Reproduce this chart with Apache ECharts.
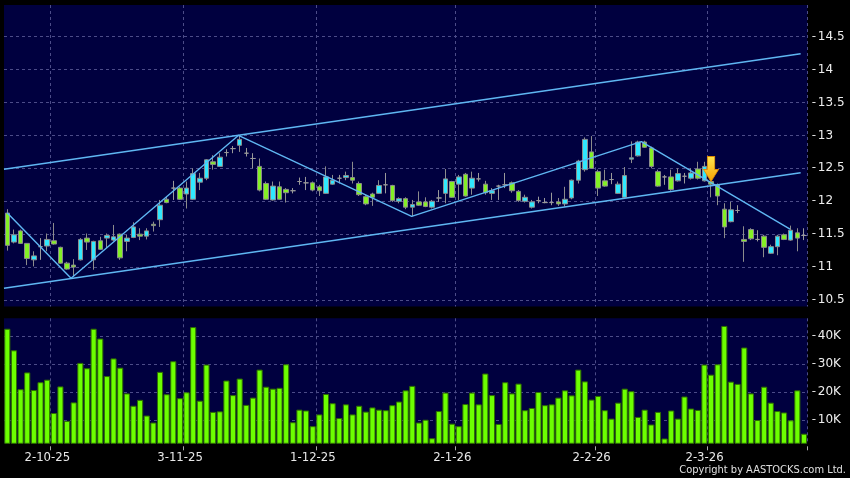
<!DOCTYPE html>
<html><head><meta charset="utf-8">
<script src="https://cdn.jsdelivr.net/npm/echarts@6/dist/echarts.min.js"></script>
<style>html,body{margin:0;padding:0;background:#000;}#c{width:850px;height:478px;}</style>
</head><body><div id="c"></div>
<script>
const dates = ['22-9-25','23-9-25','24-9-25','25-9-25','26-9-25','29-9-25','30-9-25',
'2-10-25','3-10-25','6-10-25','8-10-25','9-10-25','10-10-25','13-10-25','14-10-25','15-10-25','16-10-25','17-10-25','20-10-25','21-10-25','22-10-25','23-10-25','24-10-25','27-10-25','28-10-25','30-10-25','31-10-25',
'3-11-25','4-11-25','5-11-25','6-11-25','7-11-25','10-11-25','11-11-25','12-11-25','13-11-25','14-11-25','17-11-25','18-11-25','19-11-25','20-11-25','21-11-25','24-11-25','25-11-25','26-11-25','27-11-25','28-11-25',
'1-12-25','2-12-25','3-12-25','4-12-25','5-12-25','8-12-25','9-12-25','10-12-25','11-12-25','12-12-25','15-12-25','16-12-25','17-12-25','18-12-25','19-12-25','22-12-25','23-12-25','24-12-25','29-12-25','30-12-25','31-12-25',
'2-1-26','5-1-26','6-1-26','7-1-26','8-1-26','9-1-26','12-1-26','13-1-26','14-1-26','15-1-26','16-1-26','19-1-26','20-1-26','21-1-26','22-1-26','23-1-26','26-1-26','27-1-26','28-1-26','29-1-26','30-1-26',
'2-2-26','3-2-26','4-2-26','5-2-26','6-2-26','9-2-26','10-2-26','11-2-26','12-2-26','13-2-26','16-2-26','20-2-26','23-2-26','24-2-26','25-2-26','26-2-26','27-2-26',
'2-3-26','3-3-26','4-3-26','5-3-26','6-3-26','9-3-26','10-3-26','11-3-26','12-3-26','13-3-26','16-3-26','17-3-26','18-3-26','19-3-26','20-3-26'];

const open = [11.82,11.38,11.55,11.36,11.11,11.31,11.32,11.40,11.30,11.06,11.03,11.11,11.44,11.11,11.40,11.44,11.41,11.50,11.39,11.45,
11.50,11.47,11.65,11.72,12.03,12.20,12.20,12.11,12.03,12.29,12.35,12.60,12.53,12.74,12.80,12.85,12.73,12.65,12.53,12.27,
12.02,12.22,12.18,12.16,12.30,12.28,12.28,12.22,12.12,12.26,12.35,12.36,12.36,12.27,12.07,12.11,12.12,12.25,12.24,12.00,
12.04,11.91,11.99,11.99,11.91,12.05,12.12,12.30,12.26,12.41,12.20,12.34,12.26,12.12,12.23,12.25,12.28,12.15,12.00,11.91,
12.01,11.98,11.98,11.99,11.96,12.05,12.32,12.48,12.75,12.45,12.31,12.33,12.12,12.06,12.64,12.69,12.90,12.81,12.45,12.37,
12.37,12.31,12.38,12.35,12.49,12.31,12.30,12.25,11.88,11.69,11.86,11.42,11.57,11.42,11.47,11.21,11.31,11.49,11.41,11.52,11.48];
const close = [11.33,11.49,11.36,11.13,11.17,11.31,11.42,11.35,11.06,10.97,11.00,11.42,11.38,11.39,11.27,11.48,11.46,11.14,11.44,11.61,
11.47,11.55,11.63,11.94,11.98,12.20,12.03,12.20,12.42,12.35,12.63,12.56,12.67,12.74,12.80,12.94,12.73,12.65,12.17,12.03,
12.23,12.03,12.13,12.16,12.30,12.28,12.17,12.16,12.37,12.32,12.35,12.39,12.32,12.10,11.96,12.06,12.24,12.25,12.01,12.04,
11.91,11.95,11.94,11.92,12.00,12.05,12.34,12.06,12.37,12.08,12.35,12.34,12.13,12.16,12.23,12.25,12.16,12.01,12.06,11.99,
12.01,11.98,11.98,11.96,12.03,12.32,12.61,12.94,12.50,12.20,12.23,12.33,12.26,12.39,12.66,12.90,12.82,12.53,12.23,12.37,
12.18,12.42,12.38,12.43,12.35,12.53,12.26,12.08,11.61,11.87,11.86,11.39,11.43,11.42,11.30,11.31,11.47,11.42,11.56,11.44,11.48];
const low = [11.25,11.36,11.35,11.03,11.01,11.11,11.24,11.34,11.05,10.96,10.86,11.10,11.26,10.96,11.26,11.29,11.39,11.11,11.24,11.44,
11.41,11.42,11.54,11.61,11.97,12.02,12.02,11.89,12.02,12.17,12.32,12.48,12.53,12.68,12.73,12.75,12.68,12.50,12.15,12.02,
12.01,12.02,11.98,12.12,12.25,12.17,12.15,12.08,12.11,12.25,12.27,12.32,12.27,12.08,11.94,11.93,12.11,12.12,11.99,11.97,
11.88,11.77,11.93,11.91,11.89,11.99,11.97,12.05,12.02,12.07,12.10,12.30,12.10,12.02,12.02,12.20,12.13,11.99,11.98,11.89,
11.97,11.97,11.94,11.93,11.92,12.03,12.27,12.45,12.49,12.08,12.22,12.26,12.11,12.05,12.58,12.68,12.81,12.50,12.22,12.25,
12.16,12.30,12.27,12.33,12.33,12.30,12.06,11.94,11.44,11.68,11.82,11.08,11.41,11.39,11.15,11.20,11.18,11.41,11.40,11.24,11.41];
const high = [11.88,11.57,11.57,11.36,11.24,11.44,11.51,11.67,11.31,11.08,11.12,11.44,11.51,11.40,11.46,11.51,11.64,11.51,11.49,11.68,
11.59,11.59,11.69,12.02,12.07,12.31,12.22,12.30,12.50,12.43,12.64,12.70,12.73,12.79,12.84,13.00,12.81,12.73,12.65,12.30,
12.30,12.30,12.20,12.20,12.36,12.37,12.30,12.25,12.53,12.40,12.40,12.45,12.60,12.30,12.10,12.13,12.32,12.43,12.25,12.06,
12.06,12.02,12.15,12.06,12.02,12.17,12.49,12.31,12.40,12.43,12.45,12.43,12.31,12.20,12.25,12.43,12.30,12.17,12.10,12.02,
12.07,12.05,12.13,12.05,12.22,12.33,12.63,12.97,12.99,12.48,12.48,12.43,12.30,12.52,12.91,12.92,12.92,12.83,12.48,12.40,
12.48,12.50,12.43,12.50,12.60,12.60,12.43,12.27,11.97,11.99,11.94,11.62,11.59,11.56,11.49,11.34,11.49,11.51,11.63,11.59,11.59];
// volume in thousands of shares
const volume = [42.7,35.0,21.1,27.1,20.8,23.6,24.5,12.6,22.1,9.8,16.4,30.5,28.6,42.7,39.2,25.8,32.1,28.8,19.6,15.2,
17.3,11.7,9.2,27.3,19.3,31.1,17.9,20.0,43.3,17.0,29.9,13.0,13.2,24.2,19.0,24.9,15.5,18.1,28.1,22.0,
21.3,21.6,30.0,9.3,13.8,13.5,7.9,12.1,19.4,16.1,10.8,15.7,12.1,15.2,13.1,14.6,13.8,13.6,15.4,16.7,
20.7,22.3,9.2,10.2,3.6,13.3,19.9,8.8,7.9,15.8,19.9,15.7,26.7,19.0,8.7,23.6,19.6,23.1,13.6,14.4,
20.1,15.4,15.7,18.1,20.7,18.9,28.1,23.9,17.4,18.7,13.6,10.6,16.3,21.3,20.4,11.2,13.8,8.5,13.0,3.5,
13.5,10.6,18.5,14.2,13.7,29.9,26.3,30.0,43.7,23.8,23.0,36.0,19.6,10.1,22.0,16.3,13.3,12.8,10.0,20.7,5.2];

const priceTicksMin = 10.5, priceTicksMax = 14.5, priceTickStep = 0.5;
const volTicksMin = 10, volTicksMax = 40, volTickStep = 10;

// trend annotations: [category position, price]
const upperChannel = [[-0.5, 12.486], [119.5, 14.242]];
const lowerChannel = [[-0.5, 10.678], [119.5, 12.434]];
const zigzag = [[0, 11.82], [9.6, 10.83], [34.8, 13.0], [60.9, 11.77], [95.5, 12.905], [117.9, 11.578]];
const signalIndex = 106, signalPrice = 12.49;

const month = d => d.split('-')[1];
const isMonthStart = (i) => i > 0 && month(dates[i]) !== month(dates[i - 1]);

const gridCol = '#4c4c88';
const navy = '#00003f';
const L = 4, W = 803.3;
const candles = dates.map((d, i) => [open[i], close[i], low[i], high[i]]);
const lineStyle = { color: '#5fb6f2', width: 1.4 };
const tickLabel = (txt) => '{t|-}' + txt;
const tickRich = { t: { width: 6, fontSize: 12, color: '#dddddd', fontFamily: 'DejaVu Sans' } };
const hidden = (o) => Object.assign({ show: false, axisLine: { show: false }, axisTick: { show: false }, axisLabel: { show: false }, splitLine: { show: false }, splitArea: { show: false } }, o);

const chart = echarts.init(document.getElementById('c'), null, { renderer: 'canvas' });
chart.setOption({
  animation: false,
  backgroundColor: '#000',
  grid: [
    { left: L, width: W, top: 5, height: 301.5, show: true, backgroundColor: navy, borderWidth: 0 },
    { left: L, width: W, top: 36.7, height: 263.3, show: false },
    { left: L, width: W, top: 318.3, height: 125, show: true, backgroundColor: navy, borderWidth: 0 },
    { left: L, width: W, top: 336, height: 84, show: false }
  ],
  xAxis: [
    { gridIndex: 0, type: 'category', data: dates, boundaryGap: true,
      axisLine: { show: false }, axisTick: { show: false }, axisLabel: { show: false },
      splitLine: { show: true, interval: (i) => isMonthStart(i), lineStyle: { color: gridCol, type: [3, 3] } } },
    hidden({ gridIndex: 0, type: 'value', min: -0.5, max: dates.length - 0.5 }),
    hidden({ gridIndex: 1, type: 'value', min: 0, max: 1 }),
    { gridIndex: 2, type: 'category', data: dates, boundaryGap: true,
      axisLine: { show: false },
      axisTick: { show: true, interval: (i) => isMonthStart(i), length: 7, lineStyle: { color: '#aaaaaa', type: [0, 3, 4, 30] } },
      axisLabel: { show: true, interval: (i) => isMonthStart(i), color: '#e8e8e8', fontSize: 13, fontFamily: 'DejaVu Sans Condensed', margin: 8, padding: [0, 13, 0, 0] },
      splitLine: { show: true, interval: (i) => isMonthStart(i), lineStyle: { color: gridCol, type: [3, 3] } } },
    hidden({ gridIndex: 3, type: 'value', min: 0, max: 1 })
  ],
  yAxis: [
    hidden({ gridIndex: 0, type: 'value', min: 10.401, max: 14.982 }),
    { gridIndex: 1, type: 'value', position: 'right', min: priceTicksMin, max: priceTicksMax, interval: priceTickStep,
      axisLine: { show: false }, axisTick: { show: false },
      axisLabel: { color: '#eeeeee', fontSize: 12, fontFamily: 'DejaVu Sans', margin: 4.5, formatter: (v) => tickLabel(String(v)), rich: tickRich },
      splitLine: { show: true, lineStyle: { color: gridCol, type: [3, 3] } } },
    hidden({ gridIndex: 2, type: 'value', min: 1.786, max: 46.43 }),
    { gridIndex: 3, type: 'value', position: 'right', min: volTicksMin, max: volTicksMax, interval: volTickStep,
      axisLine: { show: false }, axisTick: { show: false },
      axisLabel: { color: '#eeeeee', fontSize: 12, fontFamily: 'DejaVu Sans', margin: 4.5, formatter: (v) => tickLabel(v + 'K'), rich: tickRich },
      splitLine: { show: true, lineStyle: { color: gridCol, type: [3, 3] } } }
  ],
  series: [
    { type: 'candlestick', xAxisIndex: 0, yAxisIndex: 0, data: candles, barWidth: 5,
      itemStyle: { color: '#30e8ff', color0: '#84f025', borderColor: '#8c8c8c', borderColor0: '#8c8c8c', borderColorDoji: '#9a9a9a', borderWidth: 1 },
      markPoint: {
        symbol: 'path://M4,0 L12,0 L12,13 L16,13 L8,25 L0,13 L4,13 Z', symbolSize: [15, 25], silent: true,
        itemStyle: { color: new echarts.graphic.LinearGradient(0, 0, 0, 1, [{ offset: 0, color: '#ffe650' }, { offset: 1, color: '#f5a000' }]), borderColor: '#e08a00', borderWidth: 0.8 },
        label: { show: false },
        data: [{ coord: [signalIndex, signalPrice] }]
      } },
    { type: 'line', xAxisIndex: 1, yAxisIndex: 0, data: upperChannel, symbol: 'none', lineStyle, silent: true, z: 3 },
    { type: 'line', xAxisIndex: 1, yAxisIndex: 0, data: lowerChannel, symbol: 'none', lineStyle, silent: true, z: 3 },
    { type: 'line', xAxisIndex: 1, yAxisIndex: 0, data: zigzag, symbol: 'none', lineStyle, silent: true, z: 3 },
    { type: 'bar', xAxisIndex: 3, yAxisIndex: 2, data: volume, barCategoryGap: '8%',
      itemStyle: { color: '#6cff00', borderColor: '#2f6f00', borderWidth: 1 } }
  ],
  graphic: [
    { type: 'text', right: 4, top: 465, style: { text: 'Copyright by AASTOCKS.com Ltd.', fill: '#e0e0e0', font: '11px "DejaVu Sans Condensed"' } }
  ]
});
</script></body></html>
